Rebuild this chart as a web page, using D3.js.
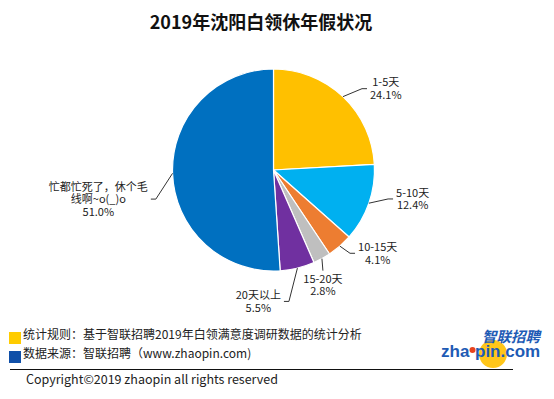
<!DOCTYPE html>
<html>
<head>
<meta charset="utf-8">
<script src="https://cdn.jsdelivr.net/npm/d3@7"></script>
<style>
  body { margin: 0; background: #fff; }
  svg { display: block; font-family: "Microsoft YaHei", "Noto Sans CJK SC", sans-serif; }
</style>
</head>
<body>
<svg id="chart" width="554" height="399"></svg>
<script>
// data
const categories = ['1-5天', '5-10天', '10-15天', '15-20天', '20天以上', '忙都忙死了，休个毛|线啊~o(_)o'];
const values = [24.1, 12.4, 4.1, 2.8, 5.5, 51.0];
const colors = ['#FFC000', '#00B0F0', '#ED7D31', '#BFBFBF', '#7030A0', '#0070C0'];

// leader line tweaks: angle shift (deg), elbow radius factor, where the text sits
const leaders = [
  {da: 4, k: 1.19, side: 'right'},
  {da: -5, k: 1.17, side: 'right'},
  {da: -1.5, k: 1.12, side: 'right'},
  {da: 2.5, k: 1.11, side: 'below'},
  {da: 7, k: 1.31, side: 'left'},
  {da: -12, k: 1.20, side: 'left'}
];

const notes = ['统计规则：基于智联招聘2019年白领满意度调研数据的统计分析', '数据来源：智联招聘（www.zhaopin.com)'];

const svg = d3.select('#chart');
const cx = 273.5, cy = 170, radius = 101;

svg.append('text')
  .attr('x', 261).attr('y', 29)
  .attr('text-anchor', 'middle')
  .attr('font-size', 18).attr('font-weight', 'bold').attr('fill', '#111')
  .text('2019年沈阳白领休年假状况');

const pie = d3.pie().sort(null).value(d => d);
const arcs = pie(values);
const arc = d3.arc().innerRadius(0).outerRadius(radius);

const g = svg.append('g').attr('transform', `translate(${cx},${cy})`);

g.selectAll('path.slice')
  .data(arcs)
  .join('path')
  .attr('class', 'slice')
  .attr('d', arc)
  .attr('fill', (d, i) => colors[i])
  .attr('stroke', '#fff')
  .attr('stroke-width', 1.2);

const polar = (a, r) => [r * Math.sin(a), -r * Math.cos(a)];

arcs.forEach((d, i) => {
  const L = leaders[i];
  const mid = (d.startAngle + d.endAngle) / 2;
  const p0 = polar(mid, radius);
  const p1 = polar(mid + L.da * Math.PI / 180, radius * L.k);
  let pts, tx, ty;
  const lines = categories[i].split('|').concat([values[i].toFixed(1) + '%']);
  const lh = 12.5;
  if (L.side === 'below') {
    pts = [p0, p1];
    tx = p1[0];
    ty = p1[1] + 4 + 8;
  } else {
    const dir = L.side === 'right' ? 1 : -1;
    const p2 = [p1[0] + 5 * dir, p1[1]];
    pts = [p0, p1, p2];
    tx = p2[0] + 3 * dir;
    ty = p1[1] - (lines.length - 1) * lh / 2 + 4;
  }
  g.append('polyline')
    .attr('points', pts.map(p => p.join(',')).join(' '))
    .attr('fill', 'none').attr('stroke', '#333').attr('stroke-width', 1);

  const t = g.append('text')
    .attr('font-size', 11).attr('fill', '#222')
    .attr('text-anchor', 'middle');
  lines.forEach((s, j) => {
    t.append('tspan').attr('x', 0).attr('y', ty + j * lh).text(s);
  });
  if (L.side !== 'below') {
    const w = t.node().getBBox().width;
    const dir = L.side === 'right' ? 1 : -1;
    t.attr('transform', `translate(${tx + dir * w / 2},0)`);
  } else {
    t.attr('transform', `translate(${tx},0)`);
  }
});

// footnotes
const noteColors = ['#FFCC00', '#0F4FA8'];
notes.forEach((s, i) => {
  const y = 332 + i * 19;
  svg.append('rect').attr('x', 9).attr('y', y).attr('width', 12).attr('height', 12).attr('fill', noteColors[i]);
  svg.append('text').attr('x', 23).attr('y', y + 7).attr('font-size', 12).attr('fill', '#222').text(s);
});

svg.append('line').attr('x1', 10).attr('x2', 513).attr('y1', 369.5).attr('y2', 369.5)
  .attr('stroke', '#111').attr('stroke-width', 1);

svg.append('text').attr('x', 26).attr('y', 384).attr('font-size', 12.5).attr('fill', '#222')
  .text('Copyright©2019 zhaopin all rights reserved');

// logo
const blue = '#1E5BB5';
const logo = svg.append('g');
logo.append('circle').attr('cx', 493).attr('cy', 354).attr('r', 14).attr('fill', '#FFC61A');
logo.append('circle').attr('cx', 472.5).attr('cy', 350).attr('r', 3).attr('fill', '#E8431D');
logo.append('text').attr('font-size', 14.5).attr('font-weight', 'bold')
  .attr('fill', blue).attr('transform', 'translate(482,342) skewX(-14)').text('智联招聘');
logo.append('text').attr('x', 441).attr('y', 357).attr('font-size', 17).attr('font-weight', 'bold')
  .attr('fill', blue).attr('font-family', 'Arial, Liberation Sans, sans-serif').text('zha');
logo.append('text').attr('x', 475).attr('y', 357).attr('font-size', 17).attr('font-weight', 'bold')
  .attr('fill', blue).attr('font-family', 'Arial, Liberation Sans, sans-serif').text('pin.com');
</script>
</body>
</html>
